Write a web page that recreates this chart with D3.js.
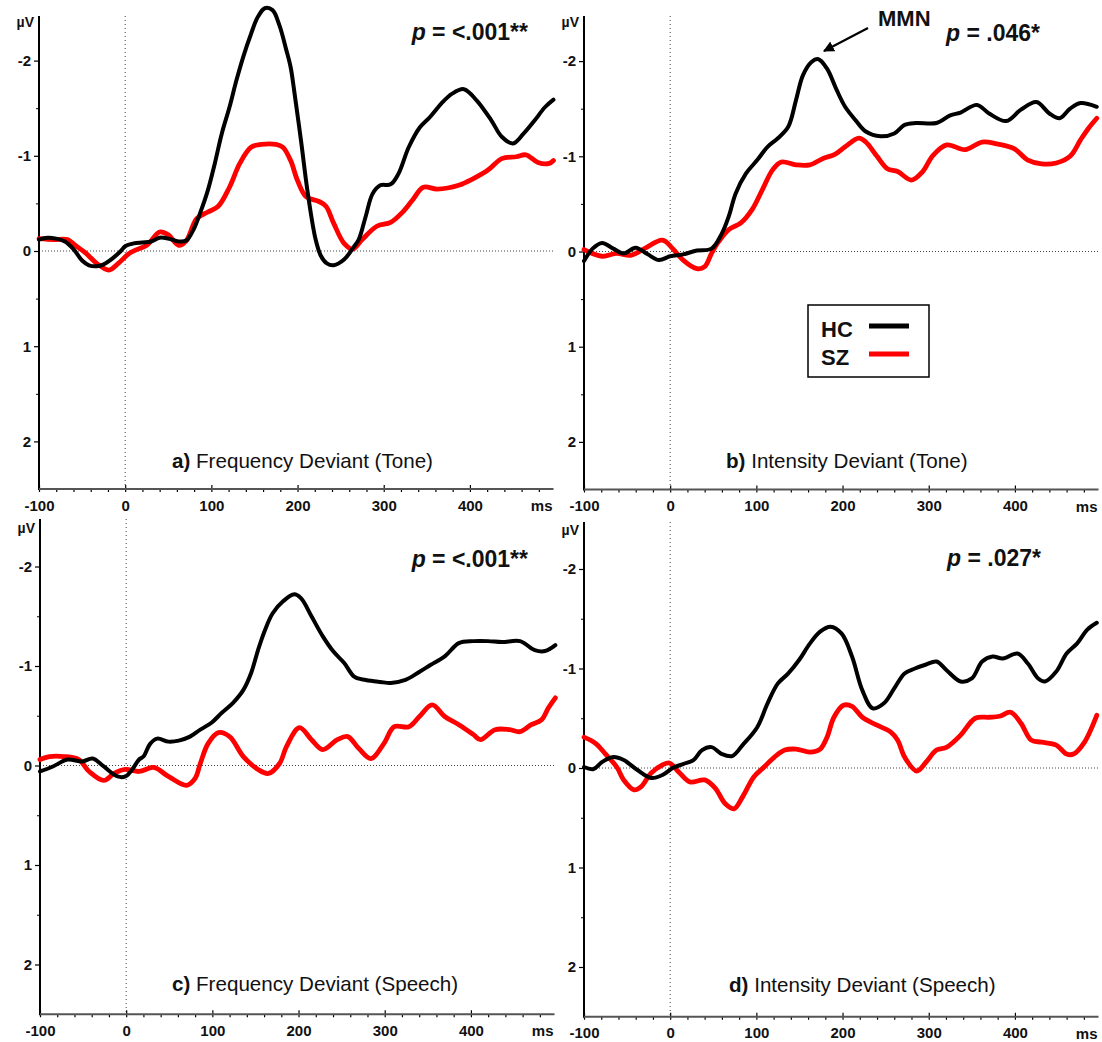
<!DOCTYPE html>
<html>
<head>
<meta charset="utf-8">
<script src="https://cdn.jsdelivr.net/npm/d3@7"></script>
<style>
  html, body { margin: 0; padding: 0; background: #fff; }
  svg { display: block; font-family: "Liberation Sans", Arial, sans-serif; }
</style>
</head>
<body>
<svg id="chart" width="1102" height="1042"></svg>
<script>
// ERP difference waves, [ms, µV] pairs (negative is drawn upward)
const freqToneHC = [[-100,-0.12],[-90,-0.14],[-80,-0.13],[-70,-0.10],[-60,-0.02],[-50,0.10],[-42,0.15],[-33,0.16],[-25,0.14],[-15,0.08],[-5,0.0],[0,-0.05],[10,-0.08],[20,-0.09],[30,-0.10],[40,-0.14],[50,-0.13],[62,-0.10],[71,-0.11],[79,-0.22],[87,-0.40],[96,-0.64],[104,-0.92],[112,-1.23],[121,-1.51],[129,-1.79],[137,-2.04],[146,-2.28],[154,-2.46],[162,-2.55],[171,-2.53],[179,-2.37],[187,-2.11],[192,-1.93],[196,-1.69],[204,-1.16],[212,-0.60],[221,-0.12],[227,0.05],[234,0.13],[242,0.15],[254,0.09],[265,-0.04],[271,-0.12],[279,-0.36],[287,-0.60],[296,-0.69],[308,-0.70],[317,-0.81],[329,-1.09],[342,-1.30],[354,-1.41],[367,-1.55],[379,-1.65],[393,-1.70],[408,-1.58],[425,-1.37],[437,-1.20],[450,-1.13],[462,-1.23],[475,-1.37],[487,-1.51],[497,-1.59]];
const freqToneSZ = [[-100,-0.13],[-83,-0.12],[-67,-0.12],[-58,-0.06],[-46,0.02],[-33,0.13],[-19,0.20],[-8,0.13],[4,0.03],[12,-0.01],[25,-0.06],[40,-0.20],[50,-0.17],[62,-0.06],[71,-0.11],[83,-0.34],[96,-0.41],[108,-0.47],[121,-0.67],[133,-0.92],[146,-1.09],[158,-1.12],[175,-1.12],[183,-1.09],[192,-0.95],[200,-0.74],[210,-0.57],[225,-0.52],[233,-0.47],[242,-0.29],[254,-0.08],[264,-0.02],[275,-0.12],[292,-0.26],[308,-0.30],[321,-0.40],[333,-0.53],[346,-0.67],[362,-0.65],[387,-0.69],[404,-0.76],[421,-0.85],[437,-0.97],[454,-0.99],[465,-1.01],[479,-0.93],[492,-0.92],[497,-0.95]];
const intToneHC = [[-100,0.10],[-90,-0.03],[-79,-0.09],[-66,-0.03],[-54,0.02],[-40,-0.04],[-26,0.03],[-13,0.09],[0,0.05],[15,0.03],[31,-0.01],[48,-0.03],[60,-0.19],[68,-0.37],[76,-0.61],[88,-0.82],[101,-0.96],[113,-1.10],[125,-1.19],[137,-1.31],[146,-1.59],[154,-1.85],[164,-1.99],[172,-2.02],[182,-1.92],[193,-1.70],[203,-1.52],[215,-1.38],[227,-1.26],[244,-1.21],[260,-1.24],[272,-1.33],[285,-1.35],[309,-1.35],[325,-1.43],[337,-1.46],[356,-1.54],[370,-1.45],[390,-1.37],[407,-1.49],[425,-1.57],[440,-1.45],[452,-1.40],[464,-1.50],[476,-1.56],[495,-1.52]];
const intToneSZ = [[-100,-0.02],[-79,0.05],[-62,0.02],[-46,0.04],[-30,-0.03],[-9,-0.12],[3,-0.03],[15,0.09],[31,0.18],[40,0.16],[48,0.02],[56,-0.10],[68,-0.23],[82,-0.30],[95,-0.44],[107,-0.65],[119,-0.86],[129,-0.94],[146,-0.91],[162,-0.91],[178,-0.98],[191,-1.02],[203,-1.10],[219,-1.19],[227,-1.15],[240,-1.00],[252,-0.87],[264,-0.84],[280,-0.75],[293,-0.84],[305,-1.01],[321,-1.12],[342,-1.07],[362,-1.15],[379,-1.13],[399,-1.08],[415,-0.96],[431,-0.92],[448,-0.93],[464,-1.00],[476,-1.17],[485,-1.29],[495,-1.40]];
const freqSpeechHC = [[-100,0.06],[-85,0.01],[-68,-0.06],[-51,-0.04],[-39,-0.07],[-26,0.01],[-10,0.11],[-1,0.11],[7,0.04],[15,-0.06],[20,-0.09],[28,-0.22],[36,-0.27],[49,-0.24],[61,-0.25],[74,-0.29],[86,-0.36],[99,-0.43],[111,-0.53],[124,-0.63],[136,-0.76],[145,-0.93],[153,-1.16],[161,-1.36],[170,-1.53],[182,-1.65],[195,-1.72],[203,-1.68],[215,-1.50],[228,-1.30],[240,-1.15],[253,-1.03],[265,-0.89],[278,-0.86],[295,-0.84],[307,-0.83],[324,-0.86],[340,-0.94],[353,-1.01],[370,-1.10],[386,-1.23],[403,-1.25],[420,-1.25],[436,-1.24],[457,-1.25],[474,-1.16],[486,-1.15],[498,-1.21]];
const freqSpeechSZ = [[-100,-0.06],[-89,-0.09],[-72,-0.09],[-55,-0.06],[-43,0.06],[-26,0.15],[-14,0.08],[-1,0.04],[15,0.06],[32,0.02],[49,0.11],[70,0.20],[80,0.13],[86,-0.02],[95,-0.22],[107,-0.33],[120,-0.29],[136,-0.09],[153,0.04],[165,0.08],[178,-0.02],[186,-0.19],[201,-0.38],[215,-0.26],[228,-0.16],[245,-0.26],[257,-0.29],[270,-0.17],[284,-0.07],[299,-0.22],[311,-0.39],[328,-0.39],[340,-0.49],[355,-0.61],[370,-0.49],[386,-0.41],[403,-0.31],[411,-0.26],[428,-0.36],[445,-0.36],[457,-0.34],[470,-0.41],[482,-0.46],[490,-0.58],[498,-0.68]];
const intSpeechHC = [[-100,-0.01],[-89,0.01],[-79,-0.06],[-66,-0.11],[-54,-0.08],[-38,0.02],[-22,0.10],[-9,0.07],[3,0.0],[15,-0.04],[27,-0.08],[37,-0.18],[48,-0.21],[60,-0.14],[72,-0.12],[84,-0.23],[101,-0.41],[113,-0.65],[125,-0.85],[137,-0.95],[150,-1.09],[162,-1.25],[174,-1.37],[186,-1.42],[199,-1.35],[211,-1.12],[223,-0.78],[235,-0.60],[248,-0.65],[260,-0.80],[272,-0.95],[284,-1.00],[297,-1.04],[309,-1.07],[321,-0.98],[337,-0.87],[350,-0.90],[362,-1.07],[374,-1.12],[386,-1.10],[403,-1.15],[415,-1.05],[427,-0.90],[435,-0.87],[448,-0.97],[460,-1.15],[472,-1.25],[484,-1.39],[495,-1.46]];
const intSpeechSZ = [[-100,-0.31],[-87,-0.25],[-75,-0.14],[-62,-0.01],[-54,0.12],[-42,0.22],[-34,0.19],[-22,0.05],[-9,-0.03],[-1,-0.05],[11,0.05],[23,0.14],[40,0.12],[52,0.20],[64,0.36],[74,0.41],[84,0.29],[97,0.09],[109,-0.01],[121,-0.11],[133,-0.18],[146,-0.19],[162,-0.16],[174,-0.19],[182,-0.31],[190,-0.51],[201,-0.63],[211,-0.62],[223,-0.51],[240,-0.43],[256,-0.36],[264,-0.28],[272,-0.11],[286,0.03],[297,-0.06],[309,-0.18],[321,-0.21],[337,-0.33],[354,-0.50],[370,-0.51],[382,-0.52],[395,-0.56],[407,-0.45],[419,-0.28],[431,-0.26],[448,-0.23],[460,-0.14],[468,-0.14],[480,-0.25],[495,-0.53]];

// Axis ticks and labels
const xMajorTicks = [-100, 0, 100, 200, 300, 400];
const xMinorTicks = d3.range(-80, 500, 20).filter(v => v % 100 !== 0);
const yMajorTicks = [-2, -1, 0, 1, 2];
const yMinorTicks = [-1.5, -0.5, 0.5, 1.5];
const panelLetters = ["a)", "b)", "c)", "d)"];
const panelNames = ["Frequency Deviant (Tone)", "Intensity Deviant (Tone)", "Frequency Deviant (Speech)", "Intensity Deviant (Speech)"];
const pValues = ["<.001**", ".046*", "<.001**", ".027*"];
const groupNames = ["HC", "SZ"];
const groupColors = ["#000000", "#ff0000"];

const seriesByPanel = [
  [freqToneHC, freqToneSZ],
  [intToneHC, intToneSZ],
  [freqSpeechHC, freqSpeechSZ],
  [intSpeechHC, intSpeechSZ]
];

// Panel placement on the page
const layout = [
  { left: 39,  right: 553.5,  zeroY: 251,   unit: 95.2, top: 16,  titleX: 172, titleY: 468, pX: 528,  pY: 40 },
  { left: 584, right: 1098.5, zeroY: 251.5, unit: 95.2, top: 16,  titleX: 726, titleY: 468, pX: 1040, pY: 41 },
  { left: 40,  right: 554.5,  zeroY: 765.5, unit: 99.5, top: 519, titleX: 172, titleY: 991, pX: 528,  pY: 567 },
  { left: 584, right: 1098.5, zeroY: 768,   unit: 99.5, top: 522, titleX: 729, titleY: 992, pX: 1041, pY: 566 }
];

const svg = d3.select("#chart");
const defs = svg.append("defs");
defs.append("marker")
  .attr("id", "arrowhead")
  .attr("viewBox", "0 0 10 10")
  .attr("refX", 9).attr("refY", 5)
  .attr("markerWidth", 5).attr("markerHeight", 5)
  .attr("markerUnits", "strokeWidth")
  .attr("orient", "auto")
  .append("path").attr("d", "M0,0 L10,5 L0,10 z").attr("fill", "#000");

layout.forEach((p, i) => {
  const x = d3.scaleLinear().domain([-100, 497]).range([p.left, p.right]);
  const y = d3.scaleLinear().domain([-2.5, 2.5]).range([p.zeroY - 2.5 * p.unit, p.zeroY + 2.5 * p.unit]);
  const bottom = y(2.5);
  const g = svg.append("g");

  // dotted zero references
  g.append("line")
    .attr("x1", x(-100)).attr("x2", p.right)
    .attr("y1", y(0)).attr("y2", y(0))
    .attr("stroke", "#444").attr("stroke-width", 1).attr("stroke-dasharray", "1,2");
  g.append("line")
    .attr("x1", x(0)).attr("x2", x(0))
    .attr("y1", p.top).attr("y2", bottom)
    .attr("stroke", "#444").attr("stroke-width", 1).attr("stroke-dasharray", "1,3");

  // y axis
  const yAxis = g.append("g").attr("transform", `translate(${p.left},0)`)
    .call(d3.axisLeft(y).tickValues(yMajorTicks).tickSize(5).tickPadding(3).tickFormat(d => String(d)));
  yAxis.select(".domain").remove();
  yAxis.selectAll(".tick line").attr("stroke", "#000").attr("stroke-width", 1.2);
  yAxis.selectAll(".tick text")
    .attr("font-family", "'Liberation Sans', Arial, sans-serif")
    .attr("font-size", 15).attr("font-weight", "bold").attr("fill", "#111");
  const yMinor = g.append("g").attr("transform", `translate(${p.left},0)`)
    .call(d3.axisLeft(y).tickValues(yMinorTicks).tickSize(3).tickFormat(""));
  yMinor.select(".domain").remove();
  yMinor.selectAll(".tick line").attr("stroke", "#000").attr("stroke-width", 1);
  g.append("line")
    .attr("x1", p.left).attr("x2", p.left)
    .attr("y1", p.top).attr("y2", bottom + 1)
    .attr("stroke", "#000").attr("stroke-width", 2);

  // x axis
  const xAxis = g.append("g").attr("transform", `translate(0,${bottom})`)
    .call(d3.axisBottom(x).tickValues(xMajorTicks).tickSize(3).tickPadding(8).tickFormat(d => String(d)));
  xAxis.select(".domain").remove();
  xAxis.selectAll(".tick line").attr("y1", -4).attr("stroke", "#000").attr("stroke-width", 1.2);
  xAxis.selectAll(".tick text")
    .attr("font-family", "'Liberation Sans', Arial, sans-serif")
    .attr("font-size", 15).attr("font-weight", "bold").attr("fill", "#111");
  const xMinor = g.append("g").attr("transform", `translate(0,${bottom})`)
    .call(d3.axisBottom(x).tickValues(xMinorTicks).tickSize(3).tickFormat(""));
  xMinor.select(".domain").remove();
  xMinor.selectAll(".tick line").attr("stroke", "#000").attr("stroke-width", 1.2);
  g.append("line")
    .attr("x1", p.left).attr("x2", p.right)
    .attr("y1", bottom).attr("y2", bottom)
    .attr("stroke", "#555").attr("stroke-width", 2);

  // unit labels
  g.append("text").attr("x", p.left - 5).attr("y", y(-2) - 34)
    .attr("text-anchor", "end").attr("font-size", 14).attr("font-weight", "bold").attr("fill", "#111")
    .text("µV");
  g.append("text").attr("x", p.right - 1).attr("y", bottom + 22)
    .attr("text-anchor", "end").attr("font-size", 15).attr("font-weight", "bold").attr("fill", "#111")
    .text("ms");

  // waveforms: SZ underneath, HC on top
  const line = d3.line()
    .x(d => x(d[0])).y(d => y(d[1]))
    .curve(d3.curveCatmullRom.alpha(0.5));
  const [hc, sz] = seriesByPanel[i];
  g.append("path").datum(sz).attr("d", line)
    .attr("fill", "none").attr("stroke", groupColors[1]).attr("stroke-width", 4.8)
    .attr("stroke-linejoin", "round").attr("stroke-linecap", "round");
  g.append("path").datum(hc).attr("d", line)
    .attr("fill", "none").attr("stroke", groupColors[0]).attr("stroke-width", 4)
    .attr("stroke-linejoin", "round").attr("stroke-linecap", "round");

  // panel title
  const t = g.append("text").attr("x", p.titleX).attr("y", p.titleY)
    .attr("font-size", 20.6).attr("fill", "#111");
  t.append("tspan").attr("font-weight", "bold").text(panelLetters[i]);
  t.append("tspan").text(" " + panelNames[i]);

  // significance
  const pt = g.append("text").attr("x", p.pX).attr("y", p.pY)
    .attr("text-anchor", "end").attr("font-size", 23).attr("font-weight", "bold").attr("fill", "#111");
  pt.append("tspan").attr("font-style", "italic").text("p");
  pt.append("tspan").text(" = " + pValues[i]);
});

// MMN annotation on the intensity (tone) panel
svg.append("text").attr("x", 878).attr("y", 26)
  .attr("font-size", 22).attr("font-weight", "bold").attr("fill", "#111").text("MMN");
svg.append("line")
  .attr("x1", 868).attr("y1", 28).attr("x2", 824).attr("y2", 51)
  .attr("stroke", "#000").attr("stroke-width", 2.2)
  .attr("marker-end", "url(#arrowhead)");

// legend
const legend = svg.append("g");
legend.append("rect").attr("x", 808).attr("y", 305).attr("width", 121).attr("height", 72)
  .attr("fill", "#fff").attr("stroke", "#000").attr("stroke-width", 1.5);
groupNames.forEach((name, k) => {
  const cy = 326 + k * 28;
  legend.append("text").attr("x", 821).attr("y", cy + 11)
    .attr("font-size", 22).attr("font-weight", "bold").attr("fill", "#111").text(name);
  legend.append("line").attr("x1", 869).attr("x2", 909).attr("y1", cy).attr("y2", cy)
    .attr("stroke", groupColors[k]).attr("stroke-width", 5);
});
</script>
</body>
</html>
